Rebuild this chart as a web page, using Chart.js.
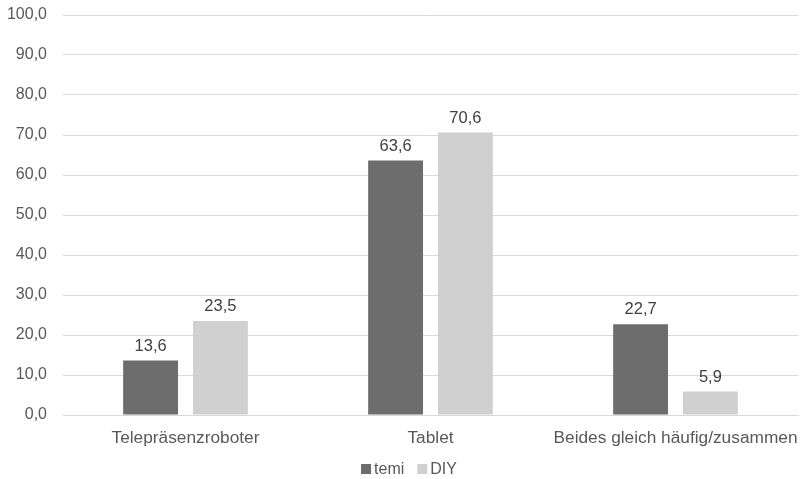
<!DOCTYPE html>
<html>
<head>
<meta charset="utf-8">
<script src="https://cdn.jsdelivr.net/npm/chart.js@4/dist/chart.umd.min.js"></script>
<style>
  html, body { margin: 0; padding: 0; background: #ffffff; }
  #wrap { width: 803px; height: 479px; position: relative; }
</style>
</head>
<body>
<div id="wrap"><canvas id="c"></canvas></div>
<script>
const categories = ['Telepräsenzroboter', 'Tablet', 'Beides gleich häufig/zusammen'];
const temiValues = [13.6, 63.6, 22.7];
const diyValues = [23.5, 70.6, 5.9];
const seriesNames = ['temi', 'DIY'];

const FONT = '"Liberation Sans", Arial, sans-serif';
const fmt = v => v.toFixed(1).replace('.', ',');

// Value labels above each bar
const valueLabels = {
  id: 'valueLabels',
  afterDatasetsDraw(chart) {
    const ctx = chart.ctx;
    ctx.save();
    ctx.font = '16.5px ' + FONT;
    ctx.fillStyle = '#404040';
    ctx.textAlign = 'center';
    ctx.textBaseline = 'bottom';
    chart.data.datasets.forEach((ds, i) => {
      chart.getDatasetMeta(i).data.forEach((bar, j) => {
        ctx.fillText(fmt(ds.data[j]), bar.x, bar.y - 6);
      });
    });
    ctx.restore();
  }
};

// Compact legend centred under the plot
const compactLegend = {
  id: 'compactLegend',
  afterDraw(chart) {
    const ctx = chart.ctx;
    ctx.save();
    ctx.font = '16px ' + FONT;
    ctx.textBaseline = 'middle';
    ctx.textAlign = 'left';
    const box = 10, gapText = 3, gapItem = 13;
    const items = chart.data.datasets.map(ds => ({
      text: ds.label, color: ds.backgroundColor, w: box + gapText + ctx.measureText(ds.label).width
    }));
    const total = items.reduce((s, it) => s + it.w, 0) + gapItem * (items.length - 1);
    let x = 409 - total / 2;
    const cy = 469;
    items.forEach(it => {
      ctx.fillStyle = it.color;
      ctx.fillRect(x, cy - box / 2, box, box);
      ctx.fillStyle = '#595959';
      ctx.fillText(it.text, x + box + gapText, cy + 1);
      x += it.w + gapItem;
    });
    ctx.restore();
  }
};

new Chart(document.getElementById('c'), {
  type: 'bar',
  data: {
    labels: categories,
    datasets: [
      { label: seriesNames[0], data: temiValues, backgroundColor: '#6d6d6d' },
      { label: seriesNames[1], data: diyValues, backgroundColor: '#d0d0d0' }
    ]
  },
  options: {
    responsive: true,
    maintainAspectRatio: false,
    animation: false,
    devicePixelRatio: 1,
    categoryPercentage: 0.57,
    barPercentage: 0.786,
    layout: { padding: { top: 15, right: 3, left: 0, bottom: 32 } },
    scales: {
      x: {
        afterFit(scale) { scale.height = 32; },
        grid: { display: false },
        border: { color: '#d9d9d9' },
        ticks: {
          color: '#595959', font: { family: FONT, size: 17.3 }, padding: 5,
          maxRotation: 0, autoSkip: false
        }
      },
      y: {
        min: 0, max: 100,
        afterFit(scale) { scale.width = 63; scale.paddingTop = 0; scale.paddingBottom = 0; },
        grid: { color: '#d9d9d9', drawTicks: false },
        border: { display: false },
        ticks: {
          stepSize: 10,
          color: '#595959',
          padding: 16,
          font: { family: FONT, size: 16 },
          callback: v => fmt(v)
        }
      }
    },
    plugins: {
      legend: { display: false },
      tooltip: { enabled: false }
    }
  },
  plugins: [valueLabels, compactLegend]
});
</script>
</body>
</html>
